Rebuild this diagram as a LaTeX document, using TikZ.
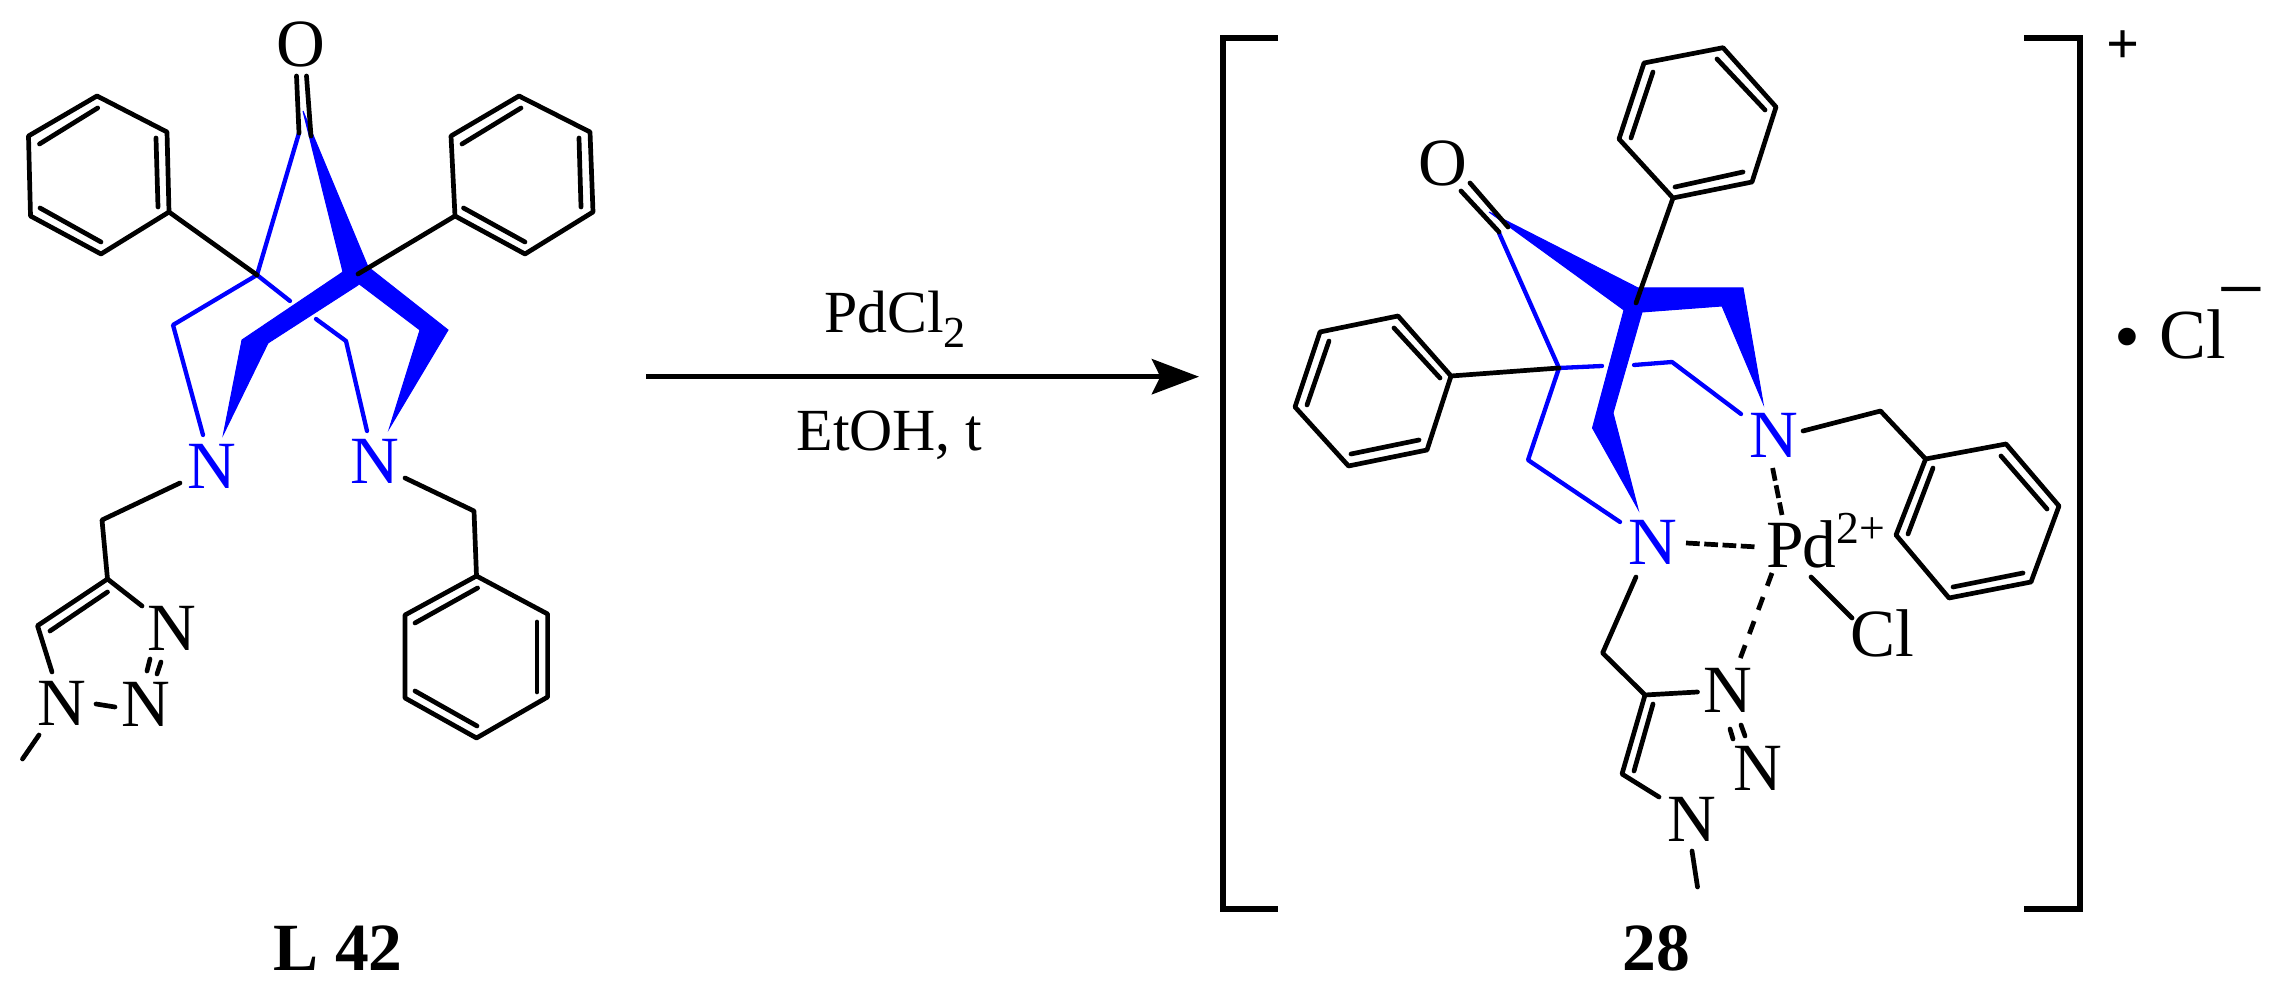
\documentclass[tikz,border=0pt]{standalone}
\usepackage{fontspec}
\setmainfont{Liberation Serif}
\usetikzlibrary{arrows.meta}
\definecolor{bondblue}{RGB}{0,0,255}
\tikzset{
  x=0.01cm,y=-0.01cm,
  bond/.style={draw=black,line width=0.047cm,line cap=round,line join=round},
  bluebond/.style={draw=bondblue,line width=0.043cm,line cap=round,line join=round},
  wedge/.style={fill=bondblue,draw=bondblue,line width=0.01cm,line join=miter},
  coord/.style={line width=0.047cm,draw=black,line cap=butt},
  atom/.style={inner sep=0pt,outer sep=0pt,anchor=base,font=\fontsize{19.2}{23}\selectfont},
  blueatom/.style={atom,text=bondblue},
  reagent/.style={inner sep=0pt,outer sep=0pt,anchor=base,font=\fontsize{17}{20}\selectfont},
  cpdlabel/.style={inner sep=0pt,outer sep=0pt,anchor=base,font=\fontsize{19.2}{23}\selectfont\bfseries},
  bracket/.style={draw=black,line width=0.055cm,line cap=butt,line join=miter},
  smallsup/.style={inner sep=0pt,outer sep=0pt}
}
\newcommand{\ring}[1]{\draw[bond] (#1a)--(#1b)--(#1c)--(#1d)--(#1e)--(#1f)--cycle;
  \draw[bond] (#1u)--(#1v); \draw[bond] (#1w)--(#1x); \draw[bond] (#1y)--(#1z);}
\begin{document}
\begin{tikzpicture}
\useasboundingbox (0,0) rectangle (2276,995);
% ---------- named points ----------
\foreach \n/\x/\y in {
 % left ligand, phenyl 1
 pAa/97/96,pAb/28.5/136,pAc/30.5/216,pAd/101/254,pAe/169/212,pAf/167/132,
 pAu/97.7/108,pAv/39.5/144,pAw/40/208,pAx/101/242,pAy/158/207,pAz/156/138,
 % phenyl 2
 pBa/519/96,pBb/451/136,pBc/455/216,pBd/525/254,pBe/593/212,pBf/590/132,
 pBu/521/108,pBv/462/144,pBw/463.5/208,pBx/525/242,pBy/581/207,pBz/579/138,
 % phenyl 3 (benzyl)
 pCa/476.5/576,pCb/405/615,pCc/405/698,pCd/476.5/738,pCe/547.6/697,pCf/547.6/614,
 pCu/477.6/588,pCv/415/623,pCw/415/691,pCx/477/726,pCy/537/692,pCz/537/622,
 % skeleton L42
 c1/257/275,c2/358/274,
 co1a/296.5/76,co1b/299/133,co2a/306.5/76,co2b/311/136,
 la/173/325,lb/203/435,lc/290/301,ld/316/319,le/346/341,lf/367/431,
 wa/303/111,wb/343/272,wc/242/340,wd/223.5/434,we/268/343,wf/358/285,
 wg/448/330,wh/389.5/428,wi/420/330,wj/368/267,wk/358/283,
 m1/180/483,m2/102/520,m3/107.5/579,m4/37.5/625.7,m5/107.5/592,m6/50/631,
 m7/142/606,m8/52/672,m9/96/704,m10/115/707,
 m11/150/659,m12/147/671,m13/161/662,m14/157/674,m15/39/735,m16/22.5/759,
 b1/405/478,b2/474/511,
 % complex, phenyl A
 pDa/1723/47.7,pDb/1644/63,pDc/1619/139,pDd/1673/198,pDe/1752/182,pDf/1776/107,
 pDu/1717/59,pDv/1765/110,pDw/1743/172,pDx/1675/187,pDy/1631/138,pDz/1653/72,
 % phenyl B
 pEa/1451/376,pEb/1398/316,pEc/1320/332,pEd/1295/407,pEe/1348.5/466,pEf/1427/450,
 pEu/1440/378,pEv/1394/328,pEw/1329/341,pEx/1307/405,pEy/1351/454,pEz/1419/440,
 % phenyl C
 pFa/1925.6/459,pFb/2006/444,pFc/2059/506,pFd/2031/582,pFe/1949/598,pFf/1896/535,
 pFu/2001/456,pFv/2047/509,pFw/2023/573,pFx/1953/587,pFy/1908/534,pFz/1933/468,
 % complex skeleton
 k1/1559/368,k2/1636/303,
 ko1a/1470/183,ko1b/1508/227,ko2a/1461/191,ko2b/1499/232,
 ka/1499/233,kb/1528/460,kc/1620/522,kd/1602/366,ke/1634/365,kf/1672/362,kg/1741/414,
 xa/1489/212,xb/1638/288,xc/1743/288,xd/1763/403,xe/1722/306,xf/1642/312,
 xg/1613/413,xh/1638/509,xi/1592.5/428,xj/1624/310,
 n1/1803/431,n2/1880.5/411,
 n3/1772.6/468,n4/1782/515,n5/1686/543,n6/1758/547,n7/1772/573,n8/1740/659,
 n9/1811/577,n10/1852/618,n11/1636/577,n12/1602.6/653,n13/1645/695,n14/1697.5/692,
 n15/1622/774,n16/1653/704,n17/1634/771,n18/1659/797,
 n19/1730/729,n20/1733/739,n21/1741/725,n22/1745/736,n23/1692/851,n24/1697.5/887,
 % brackets, arrow
 bla/1278/38,blb/1223/38,blc/1223/909,bld/1278/909,
 bra/2024/38,brb/2080/38,brc/2080/909,brd/2024/909,
 ar1/646/376.7,ar2/1199/376.7
}{\coordinate (\n) at (\x,\y);}
% ---------- wedges and blue bonds (under the black ones) ----------
\path[wedge] (wa)--(wj)--(wb)--cycle;
\path[wedge] (wb)--(wc)--(wd)--(we)--(wf)--(wj)--cycle;
\path[wedge] (wb)--(wj)--(wg)--(wh)--(wi)--(wk)--cycle;
\path[wedge] (xa)--(xb)--(xc)--(xd)--(xe)--(xf)--(xg)--(xh)--(xi)--(xj)--cycle;
\draw[bluebond] (co1b)--(c1)--(la)--(lb);
\draw[bluebond] (c1)--(lc);
\draw[bluebond] (ld)--(le)--(lf);
\draw[bluebond] (ka)--(k1)--(kb)--(kc);
\draw[bluebond] (k1)--(kd);
\draw[bluebond] (ke)--(kf)--(kg);
% ---------- L 42 black bonds ----------
\ring{pA}\ring{pB}\ring{pC}
\draw[bond] (pAe)--(c1);
\draw[bond] (pBc)--(c2);
\draw[bond] (co1a)--(co1b);
\draw[bond] (co2a)--(co2b);
\draw[bond] (m1)--(m2)--(m3)--(m4)--(m8);
\draw[bond] (m5)--(m6);
\draw[bond] (m3)--(m7);
\draw[bond] (m9)--(m10);
\draw[bond] (m11)--(m12);
\draw[bond] (m13)--(m14);
\draw[bond] (m15)--(m16);
\draw[bond] (b1)--(b2)--(pCa);
% ---------- complex black bonds ----------
\ring{pD}\ring{pE}\ring{pF}
\draw[bond] (pDd)--(k2);
\draw[bond] (pEa)--(k1);
\draw[bond] (ko1a)--(ko1b);
\draw[bond] (ko2a)--(ko2b);
\draw[bond] (n1)--(n2)--(pFa);
\draw[bond] (n11)--(n12)--(n13)--(n14);
\draw[bond] (n13)--(n15)--(n18);
\draw[bond] (n16)--(n17);
\draw[bond] (n9)--(n10);
\draw[bond] (n19)--(n20);
\draw[bond] (n21)--(n22);
\draw[bond] (n23)--(n24);
\draw[coord,dash pattern=on 3.7pt off 1.3pt] (n3)--(n4);
\draw[coord,dash pattern=on 3.9pt off 1.3pt] (n5)--(n6);
\draw[coord,dash pattern=on 3.9pt off 3.4pt] (n7)--(n8);
% ---------- brackets and arrow ----------
\draw[bracket] (bla)--(blb)--(blc)--(bld);
\draw[bracket] (bra)--(brb)--(brc)--(brd);
\draw[line width=0.05cm,draw=black,-{Stealth[length=13.4pt,width=10pt,inset=2.4pt]}] (ar1)--(ar2);
% ---------- atoms ----------
\node[atom] (O1) at (301,67) {O};
\node[blueatom] (N1) at (211.5,489) {N};
\node[blueatom] (N2) at (374.5,484) {N};
\node[atom] (N3) at (172,650.5) {N};
\node[atom] (N4) at (62,726) {N};
\node[atom] (N5) at (145.5,727) {N};
\node[atom] (O2) at (1443,186) {O};
\node[blueatom] (N6) at (1773.6,458) {N};
\node[blueatom] (N7) at (1653,564.5) {N};
\node[atom,anchor=base west] (Pd) at (1766,568) {P\kern-0.3pt d\raisebox{7.1pt}{\fontsize{13}{13}\selectfont 2+}};
\node[atom] (Cl1) at (1882,657) {Cl};
\node[atom] (N8) at (1728,712.5) {N};
\node[atom] (N9) at (1692,841.5) {N};
\node[atom] (N10) at (1758,790.5) {N};
% ---------- texts ----------
\node[reagent,anchor=base west] (reag1) at (824,333) {PdCl\raisebox{-4pt}{\fontsize{12.6}{13}\selectfont 2}};
\node[reagent] (reag2) at (889.5,451) {EtOH, t};
\node[cpdlabel] (lab1) at (338,970) {L 42};
\node[cpdlabel] (lab2) at (1656,970) {28};
\node[smallsup,font=\fontsize{16.5}{16}\selectfont\bfseries] (plus) at (2123,47) {+};
\node[smallsup,font=\fontsize{21}{21}\selectfont] (dot) at (2127,345) {\textbullet};
\node[atom,font=\fontsize{20}{24}\selectfont] (Cl2) at (2193,359) {Cl};
\node[smallsup,font=\fontsize{24}{24}\selectfont] (minus) at (2241,302) {−};
\end{tikzpicture}
\end{document}
